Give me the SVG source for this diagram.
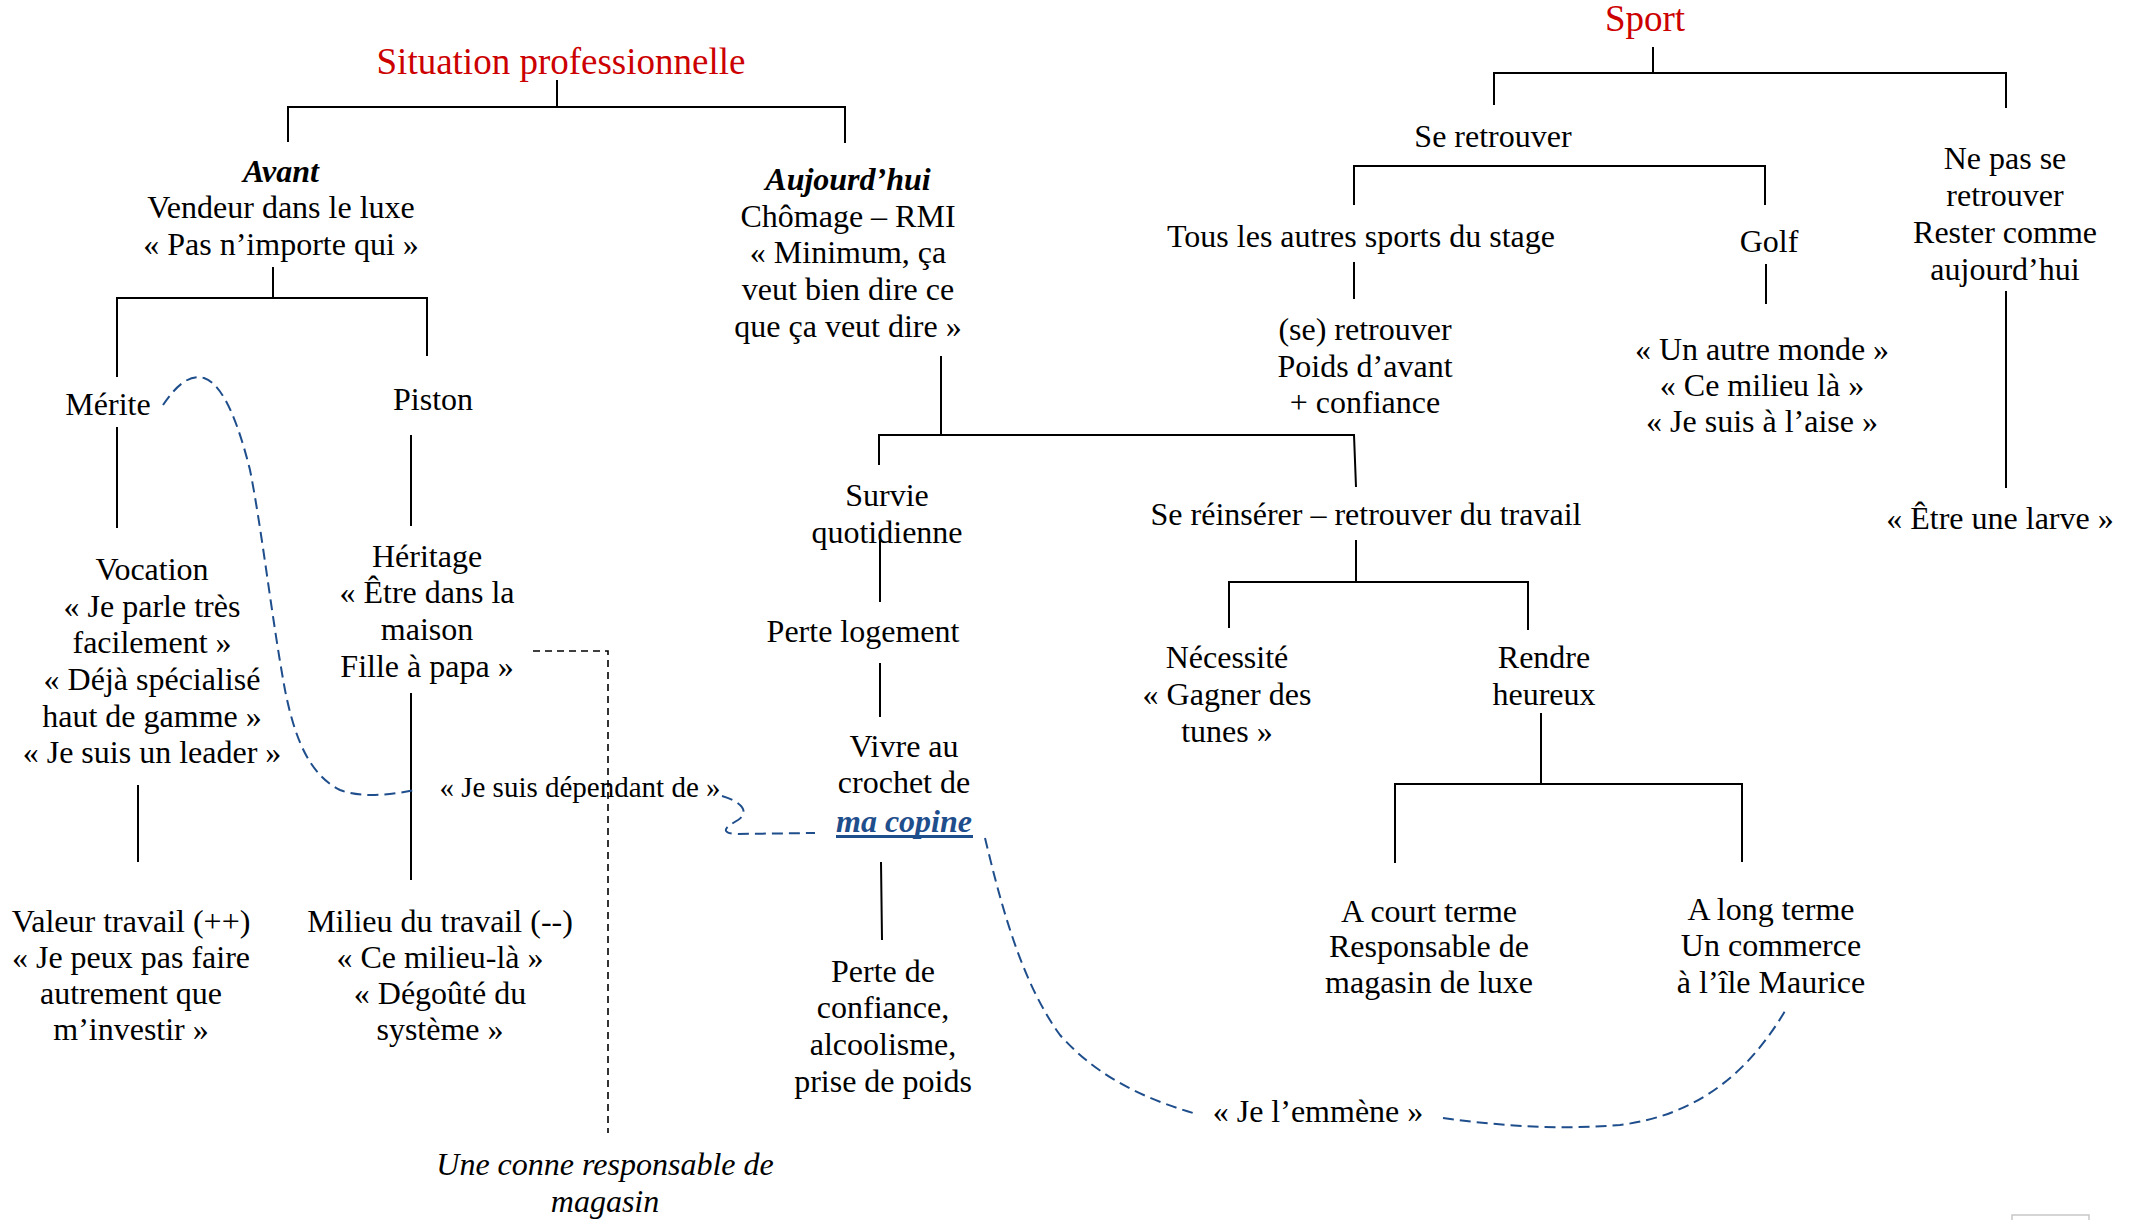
<svg xmlns="http://www.w3.org/2000/svg" width="2133" height="1220" viewBox="0 0 2133 1220">
<style>
text{font-family:"Liberation Serif","Times New Roman",serif;font-size:32px;fill:#000;text-anchor:middle}
.title{font-size:37px;fill:#cc0000}
.bi{font-weight:bold;font-style:italic}
.it{font-style:italic}
.link{font-weight:bold;font-style:italic;fill:#1f4e8c}
.ln{stroke:#000;stroke-width:2;fill:none}
.dk{stroke:#000;stroke-width:1.6;fill:none;stroke-dasharray:7 5}
.bl{stroke:#1f4e8c;stroke-width:2;fill:none;stroke-dasharray:11 6}
</style>
<rect width="2133" height="1220" fill="#fff"/>
<g id="connectors">
<path class="ln" d="M557,80V107M288,142V107H845V143"/>
<path class="ln" d="M273,267V298M117,377V298H427V356"/>
<path class="ln" d="M117,427V528M411,435V526M138,785V862M411,693V880"/>
<path class="ln" d="M941,356V435M879,465V435H1354L1356,487"/>
<path class="ln" d="M880,540V602M880,663V717M881,862L882,940"/>
<path class="ln" d="M1356,540V582M1229,628V582H1528V630"/>
<path class="ln" d="M1541,713V784M1395,863V784H1742V862"/>
<path class="ln" d="M1653,47V73M1494,105V73H2006V108"/>
<path class="ln" d="M1354,205V166H1765V205M1354,262V299M1766,264V304M2006,291V488"/>
<path class="dk" d="M533,651H608V1133"/>
<path class="bl" d="M163,405Q185,372 204,378C225,385 240,430 250,470C262,530 272,620 285,690C295,740 310,775 340,790C360,798 390,795 415,790"/>
<path class="bl" d="M722,796C742,802 750,812 738,820C728,826 718,832 735,834L815,833"/>
<path class="bl" d="M985,838C1000,900 1020,980 1060,1035C1100,1080 1150,1100 1193,1113"/>
<path class="bl" d="M1443,1118C1500,1126 1560,1130 1620,1125C1700,1115 1750,1070 1785,1011"/>
</g>
<g id="n-situation"><text class="title" x="561" y="74">Situation professionnelle</text></g>
<g id="n-sport"><text class="title" x="1645" y="31">Sport</text></g>
<g id="n-avant"><text x="281" y="182" class="bi">Avant</text><text x="281" y="218">Vendeur dans le luxe</text><text x="281" y="255">« Pas n’importe qui »</text></g>
<g id="n-aujourdhui"><text x="848" y="190" class="bi">Aujourd’hui</text><text x="848" y="227">Chômage – RMI</text><text x="848" y="263">« Minimum, ça</text><text x="848" y="300">veut bien dire ce</text><text x="848" y="337">que ça veut dire »</text></g>
<g id="n-merite"><text x="108" y="415">Mérite</text></g>
<g id="n-piston"><text x="433" y="410">Piston</text></g>
<g id="n-vocation"><text x="152" y="580">Vocation</text><text x="152" y="617">« Je parle très</text><text x="152" y="653">facilement »</text><text x="152" y="690">« Déjà spécialisé</text><text x="152" y="727">haut de gamme »</text><text x="152" y="763">« Je suis un leader »</text></g>
<g id="n-heritage"><text x="427" y="567">Héritage</text><text x="427" y="603">« Être dans la</text><text x="427" y="640">maison</text><text x="427" y="677">Fille à papa »</text></g>
<g id="n-valeur"><text x="131" y="932">Valeur travail (++)</text><text x="131" y="968">« Je peux pas faire</text><text x="131" y="1004">autrement que</text><text x="131" y="1040">m’investir »</text></g>
<g id="n-milieu"><text x="440" y="932">Milieu du travail (--)</text><text x="440" y="968">« Ce milieu-là »</text><text x="440" y="1004">« Dégoûté du</text><text x="440" y="1040">système »</text></g>
<g id="n-dependant"><text x="580" y="797" style="font-size:29px">« Je suis dépendant de »</text></g>
<g id="n-conne"><text x="605" y="1175" class="it">Une conne responsable de</text><text x="605" y="1212" class="it">magasin</text></g>
<g id="n-seretrouver2"><text x="1365" y="340">(se) retrouver</text><text x="1365" y="377">Poids d’avant</text><text x="1365" y="413">+ confiance</text></g>
<g id="n-survie"><text x="887" y="506">Survie</text><text x="887" y="543">quotidienne</text></g>
<g id="n-logement"><text x="863" y="642">Perte logement</text></g>
<g id="n-vivre"><text x="904" y="757">Vivre au</text><text x="904" y="793">crochet de</text><text x="904" y="832" class="link">ma copine</text><rect x="836" y="835" width="137" height="3" fill="#1f4e8c"/></g>
<g id="n-perteconf"><text x="883" y="982">Perte de</text><text x="883" y="1018">confiance,</text><text x="883" y="1055">alcoolisme,</text><text x="883" y="1092">prise de poids</text></g>
<g id="n-reinserer"><text x="1366" y="525">Se réinsérer – retrouver du travail</text></g>
<g id="n-necessite"><text x="1227" y="668">Nécessité</text><text x="1227" y="705">« Gagner des</text><text x="1227" y="742">tunes »</text></g>
<g id="n-rendre"><text x="1544" y="668">Rendre</text><text x="1544" y="705">heureux</text></g>
<g id="n-court"><text x="1429" y="922">A court terme</text><text x="1429" y="957">Responsable de</text><text x="1429" y="993">magasin de luxe</text></g>
<g id="n-long"><text x="1771" y="920">A long terme</text><text x="1771" y="956">Un commerce</text><text x="1771" y="993">à l’île Maurice</text></g>
<g id="n-emmene"><text x="1318" y="1122">« Je l’emmène »</text></g>
<g id="n-seretrouver"><text x="1493" y="147">Se retrouver</text></g>
<g id="n-tous"><text x="1361" y="247">Tous les autres sports du stage</text></g>
<g id="n-golf"><text x="1769" y="252">Golf</text></g>
<g id="n-golfq"><text x="1762" y="360">« Un autre monde »</text><text x="1762" y="396">« Ce milieu là »</text><text x="1762" y="432">« Je suis à l’aise »</text></g>
<g id="n-nepas"><text x="2005" y="169">Ne pas se</text><text x="2005" y="206">retrouver</text><text x="2005" y="243">Rester comme</text><text x="2005" y="280">aujourd’hui</text></g>
<g id="n-larve"><text x="2000" y="529">« Être une larve »</text></g>
<rect x="2012" y="1215" width="77" height="12" fill="none" stroke="#c8c8c8" stroke-width="1.5"/>
</svg>
